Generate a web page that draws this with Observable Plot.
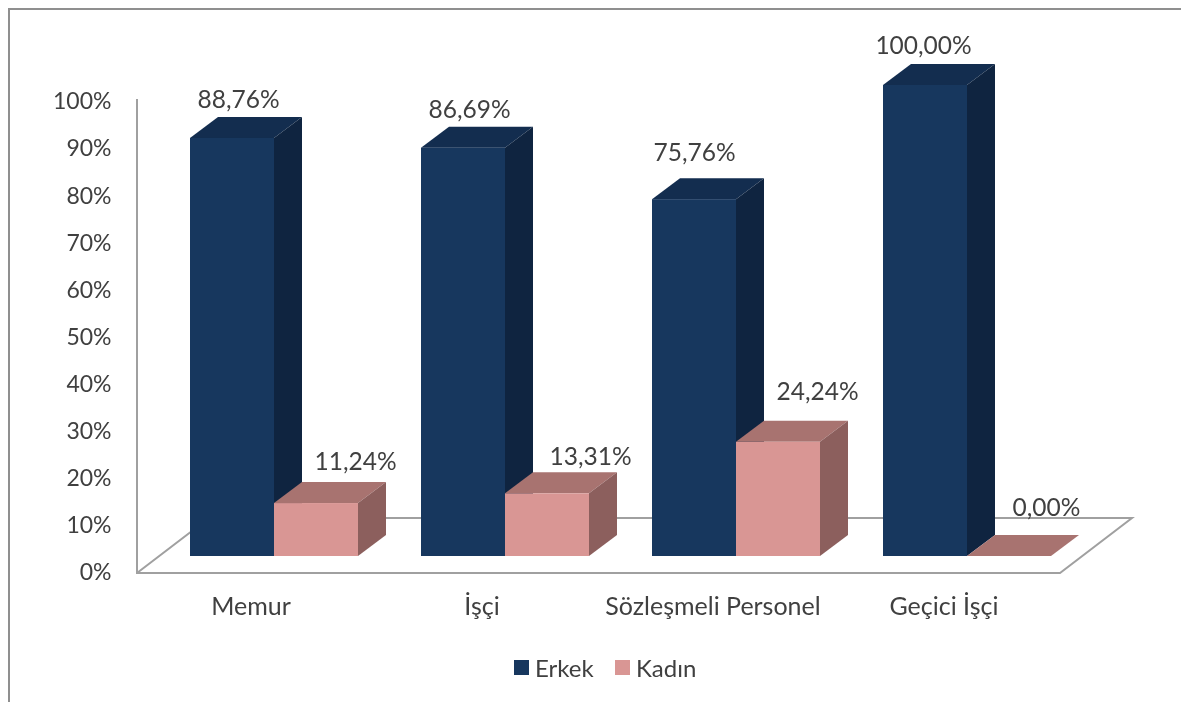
<!DOCTYPE html>
<html>
<head>
<meta charset="utf-8">
<script src="https://cdn.jsdelivr.net/npm/d3@7"></script>
<script src="https://cdn.jsdelivr.net/npm/@observablehq/plot@0.6"></script>
<style>
  html, body { margin: 0; padding: 0; background: #fff; width: 1181px; height: 702px; overflow: hidden; }
  #frame { position: absolute; left: 8px; top: 8px; width: 1173px; height: 694px; border-left: 2px solid #8f8f8f; border-top: 2px solid #8f8f8f; box-sizing: border-box; }
  #chart { position: absolute; left: 0; top: 0; filter: blur(0.4px); }
  #legend { position: absolute; left: 0; top: 650px; width: 1181px; height: 36px; font: 24px Lato, sans-serif; color: #404040; filter: blur(0.4px); }
  #legend span { position: absolute; line-height: 36px; top: 0; white-space: nowrap; }
  #legend i { position: absolute; top: 10px; width: 15px; height: 15px; }
</style>
</head>
<body>
<div id="frame"></div>
<div id="chart"></div>
<div id="legend">
  <i style="left:514px;background:#17375E"></i><span style="left:535px">Erkek</span>
  <i style="left:615px;background:#D99694"></i><span style="left:636px">Kadın</span>
</div>
<script>
const categories = ["Memur", "İşçi", "Sözleşmeli Personel", "Geçici İşçi"];
const seriesNames = ["Erkek", "Kadın"];
const erkek = [88.76, 86.69, 75.76, 100];
const kadin = [11.24, 13.31, 24.24, 0];
const yTicks = [0, 10, 20, 30, 40, 50, 60, 70, 80, 90, 100];

// label nudges from the bar's front-top centre, as placed in the source chart
const erkekNudge = [[6, -38], [6, -38], [0, -47], [-2, -39]];
const kadinNudge = [[39, -41], [43, -37], [39, -50], [37, -48]];

const palette = {
  Erkek: {front: "#17375E", top: "#132D4F", side: "#0F2440"},
  Kadın: {front: "#D99694", top: "#A87370", side: "#8C5F5D"}
};
const depth = {dx: 28, dy: 21};
const textColor = "#404040";

const rows = categories.flatMap((cat, i) => [
  {cat, series: "Erkek", value: erkek[i], nudge: erkekNudge[i]},
  {cat, series: "Kadın", value: kadin[i], nudge: kadinNudge[i]}
]);
const fmt = v => v.toFixed(2).replace(".", ",") + "%";

function prism(series) {
  const data = rows.filter(d => d.series === series);
  const c = palette[series];
  return Plot.barY(data, {
    fx: "cat", x: "series", y: "value", fill: c.front,
    render(index, scales, values, dims, ctx, next) {
      const g = next(index, scales, values, dims, ctx);
      for (const i of index) {
        const d = data[i];
        const x0 = scales.x(d.series), x1 = x0 + scales.x.bandwidth();
        const y0 = scales.y(0), y1 = scales.y(d.value);
        const {dx, dy} = depth;
        const faces = [
          [c.side, [[x1, y0], [x1 + dx, y0 - dy], [x1 + dx, y1 - dy], [x1, y1]]],
          [c.top, [[x0, y1], [x0 + dx, y1 - dy], [x1 + dx, y1 - dy], [x1, y1]]]
        ];
        for (const [fill, pts] of faces) {
          const p = document.createElementNS("http://www.w3.org/2000/svg", "path");
          p.setAttribute("d", "M" + pts.join("L") + "Z");
          p.setAttribute("fill", fill);
          g.insertBefore(p, g.firstChild);
        }
      }
      return g;
    }
  });
}

// floor and vertical axis line of the 3-D frame
const floor = Plot.frame({
  facet: "super",
  render(index, scales, values, dims) {
    const y0 = scales.y(0) + 17, yb = scales.y(0) - 38, yt = scales.y(100) + 14;
    const g = d3.create("svg:g").attr("fill", "none").attr("stroke", "#A0A0A0").attr("stroke-width", 2);
    const L = dims.marginLeft - 52, R = dims.width - 49;
    g.append("path").attr("d", `M${L},${yt}V${y0}H${R - 72}L${R},${yb}H${L + 72}L${L},${y0}`);
    return g.node();
  }
});

const labels = rows.map(d => Plot.text([d], {
  fx: "cat", x: "series", y: "value",
  text: r => fmt(r.value),
  dx: d.nudge[0], dy: d.nudge[1],
  fill: textColor, fontSize: 24.5, textAnchor: "middle"
}));

const plot = Plot.plot({
  width: 1181, height: 640,
  marginLeft: 158, marginRight: 99, marginTop: 85, marginBottom: 84,
  style: {fontFamily: "Lato, sans-serif", background: "transparent", color: textColor},
  fx: {domain: categories, paddingInner: 0.2684, paddingOuter: 0.1342, label: null},
  x: {domain: seriesNames, padding: 0, axis: null},
  y: {domain: [0, 100], label: null},
  marks: [
    floor,
    Plot.axisY({ticks: yTicks, tickFormat: d => d + "%", tickSize: 0, tickPadding: 0, dx: -78, dy: 16.5, fontSize: 23, label: null, fill: textColor}),
    Plot.axisFx({anchor: "bottom", tickSize: 0, tickPadding: 0, dx: -23, dy: 41, fontSize: 25, label: null, fill: textColor}),
    prism("Erkek"),
    prism("Kadın"),
    ...labels
  ]
});
document.getElementById("chart").appendChild(plot);
</script>
</body>
</html>
